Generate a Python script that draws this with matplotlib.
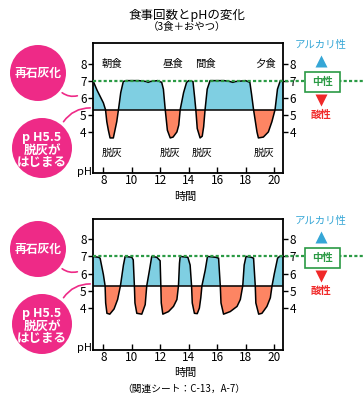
import numpy as np
import matplotlib.pyplot as plt
from matplotlib.patches import Circle, Rectangle, FancyArrowPatch
from matplotlib.transforms import blended_transform_factory

plt.rcParams['font.family'] = ['Noto Sans CJK JP', 'DejaVu Sans']

W, H = 363, 397

BASE_PH = 5.3      # drawn position of the pH5.5 line
NEUTRAL_PH = 7.0
XLIM = (7.27, 20.63)
YLIM = (1.6, 9.2)

x_ticks = [8, 10, 12, 14, 16, 18, 20]
y_ticks = [4, 5, 6, 7, 8]

# 3 meals + snack
top_hours = [7.27, 7.55, 8.0, 8.15, 8.24, 8.35, 8.47, 8.7, 8.94, 9.06, 9.22, 9.4, 9.6,
             10.5, 11.0, 11.15, 11.3, 11.8, 12.1, 12.22, 12.35, 12.5, 12.7, 12.9, 13.17,
             13.3, 13.4, 13.64, 13.85, 14.0, 14.3, 14.42, 14.5, 14.6, 14.8, 14.95, 15.05,
             15.15, 15.3, 15.5, 16.5, 16.9, 17.1, 17.3, 18.0, 18.3, 18.42, 18.56, 18.8,
             18.9, 19.25, 19.6, 19.85, 20.07, 20.24, 20.44, 20.63]
top_ph = [7.0, 6.45, 5.7, 5.3, 4.6, 4.1, 3.65, 3.65, 4.6, 5.3, 6.3, 6.95, 7.0,
          7.0, 6.95, 6.9, 6.95, 7.0, 6.9, 6.5, 5.3, 4.1, 3.65, 3.7, 4.0,
          4.4, 5.3, 6.3, 6.9, 7.0, 6.95, 6.0, 5.3, 4.2, 3.65, 3.75, 4.3,
          5.3, 6.5, 7.0, 7.0, 6.95, 6.9, 6.95, 7.0, 6.9, 6.2, 5.3, 4.0,
          3.65, 3.7, 4.0, 4.6, 5.3, 6.5, 7.0, 7.0]

# frequent snacking
bottom_hours = [7.27, 7.65, 7.77, 8.0, 8.12, 8.16, 8.25, 8.45, 8.75, 9.0, 9.2, 9.41, 9.53,
                10.0, 10.1, 10.18, 10.22, 10.35, 10.7, 10.94, 11.05, 11.24, 11.4, 11.76,
                11.99, 12.04, 12.07, 12.18, 12.58, 12.93, 13.17, 13.28, 13.35, 13.4, 13.94,
                14.1, 14.2, 14.25, 14.4, 14.6, 14.75, 14.85, 14.93, 15.16, 15.32, 15.9,
                16.1, 16.22, 16.27, 16.45, 16.92, 17.4, 17.63, 17.8, 17.9, 18.03, 18.4,
                18.56, 18.68, 18.72, 18.92, 19.15, 19.5, 19.74, 19.86, 20.02, 20.25, 20.39,
                20.63]
bottom_ph = [7.0, 6.95, 6.9, 5.95, 5.3, 4.3, 3.7, 3.65, 3.95, 4.5, 5.3, 6.5, 7.0,
             6.95, 6.8, 5.3, 4.3, 3.7, 3.65, 4.2, 5.3, 6.2, 7.0, 6.95,
             6.75, 5.3, 4.3, 3.65, 3.8, 4.1, 4.5, 5.3, 6.6, 7.0, 6.95,
             6.5, 5.3, 4.3, 3.7, 3.68, 4.0, 4.6, 5.3, 6.2, 7.0, 6.95,
             6.9, 5.3, 4.3, 3.65, 3.8, 4.1, 4.5, 5.3, 6.5, 7.0, 6.95,
             6.9, 5.3, 4.3, 3.65, 3.7, 4.1, 4.6, 5.3, 6.0, 6.9, 7.0,
             7.0]

meal_labels = ['朝食', '昼食', '間食', '夕食']
meal_x = [8.6, 12.9, 15.2, 19.4]
decalc_x = [8.6, 12.7, 14.93, 19.27]

BLUE = '#7fcfe2'
ORANGE = '#fd8563'
PINK = '#ee2a87'
GREEN = '#2a9a44'
CYAN = '#35a6d6'
RED = '#f02828'


def draw_chart(ax, hours, ph):
    hours = np.array(hours)
    ph = np.array(ph)
    ax.fill_between(hours, ph, BASE_PH, where=ph >= BASE_PH, interpolate=True,
                    color=BLUE, lw=0)
    ax.fill_between(hours, ph, BASE_PH, where=ph <= BASE_PH, interpolate=True,
                    color=ORANGE, lw=0)
    ax.axhline(BASE_PH, color='black', lw=1.1)
    ax.plot(hours, ph, color='black', lw=1.1, solid_joinstyle='round')
    tr = blended_transform_factory(ax.transAxes, ax.transData)
    ax.plot([0, 1 + 80 / 190], [NEUTRAL_PH, NEUTRAL_PH], color=GREEN, lw=1.6,
            ls=(0, (1.4, 1.0)), transform=tr, clip_on=False, zorder=3)
    ax.set_xlim(*XLIM)
    ax.set_ylim(*YLIM)
    ax.set_xticks(x_ticks)
    ax.set_yticks(y_ticks)
    ax.tick_params(axis='x', direction='in', length=4, width=1, labelsize=8.5, pad=1)
    ax.tick_params(axis='y', direction='out', length=3.5, width=1, labelsize=8.5,
                   pad=1, right=True, labelright=True)
    for s in ax.spines.values():
        s.set_linewidth(1.3)


fig = plt.figure(figsize=(W / 100, H / 100), dpi=100)

ax1 = fig.add_axes([93 / W, 1 - 173 / H, 190 / W, 130 / H])
draw_chart(ax1, top_hours, top_ph)
for lab, x in zip(meal_labels, meal_x):
    ax1.text(x, 8.0, lab, ha='center', va='center', fontsize=7.5)
for x in decalc_x:
    ax1.text(x, 2.76, '脱灰', ha='center', va='center', fontsize=7.5)

ax2 = fig.add_axes([93 / W, 1 - 349.5 / H, 190 / W, 131 / H])
draw_chart(ax2, bottom_hours, bottom_ph)

# overlay in pixel coordinates
ov = fig.add_axes([0, 0, 1, 1])
ov.set_xlim(0, W)
ov.set_ylim(H, 0)
ov.axis('off')
ov.set_zorder(5)

ov.text(187, 15, '食事回数とpHの変化', ha='center', va='center', fontsize=9)
ov.text(187, 27, '（3食＋おやつ）', ha='center', va='center', fontsize=7.5)
ov.text(184, 389, '（関連シート：C-13，A-7）', ha='center', va='center', fontsize=7)

for dy in [0, 176]:
    ov.text(185, 197 + dy, '時間', ha='center', va='center', fontsize=8)
    ov.text(85, 172 + dy, 'pH', ha='center', va='center', fontsize=8)
    ov.add_patch(FancyArrowPatch((60, 91 + dy), (80, 95 + dy), arrowstyle='-',
                                 connectionstyle='arc3,rad=0.3', color=PINK, lw=1.2))
    ov.add_patch(FancyArrowPatch((62, 124 + dy), (93, 108 + dy), arrowstyle='-',
                                 connectionstyle='arc3,rad=-0.3', color=PINK, lw=1.2))
    ov.add_patch(Circle((38, 73 + dy), 28, color=PINK, lw=0))
    ov.add_patch(Circle((42, 148 + dy), 30, color=PINK, lw=0))
    ov.text(38, 73 + dy, '再石灰化', ha='center', va='center', fontsize=8.5,
            color='white', fontweight='bold')
    ov.text(42, 150 + dy, 'p H5.5\n脱灰が\nはじまる', ha='center', va='center',
            fontsize=9, color='white', fontweight='bold', linespacing=0.95)

    ov.text(321, 45 + dy, 'アルカリ性', ha='center', va='center', fontsize=7.5, color=CYAN)
    ov.plot([321], [61 + dy], marker='^', ms=8, color=CYAN, mec='none')
    ov.add_patch(Rectangle((305, 72 + dy), 35, 19.5, facecolor='white',
                           edgecolor=GREEN, lw=1.2, zorder=4))
    ov.text(322.5, 81.5 + dy, '中性', ha='center', va='center', fontsize=7.5,
            color=GREEN, fontweight='bold', zorder=5)
    ov.plot([321], [100 + dy], marker='v', ms=8, color=RED, mec='none')
    ov.text(321, 115 + dy, '酸性', ha='center', va='center', fontsize=7.5,
            color=RED, fontweight='bold')

fig.savefig('out.png', dpi=100)
